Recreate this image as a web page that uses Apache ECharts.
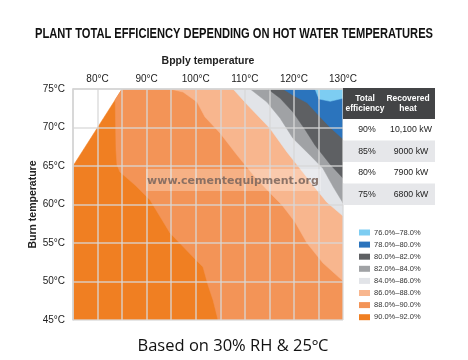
<!DOCTYPE html>
<html><head><meta charset="utf-8">
<script src="https://cdn.jsdelivr.net/npm/echarts@6/dist/echarts.min.js"></script>
<style>html,body{margin:0;padding:0;background:#fff}#c{width:468px;height:360px}</style>
</head><body><div id="c"></div>
<script>
// ---- data ----
const xMin = 75, xMax = 130, xStep = 5;     // supply temperature (°C)
const yMin = 45, yMax = 75, yStep = 5;      // return temperature (°C)
const bandNames = ['90.0%–92.0%','88.0%–90.0%','86.0%–88.0%','84.0%–86.0%','82.0%–84.0%','80.0%–82.0%','78.0%–80.0%','76.0%–78.0%'];
const bandColors = ['#f07f22','#f39457','#f8b68e','#e2e4e8','#a0a2a5','#5e6063','#2b74bd','#7dcdf2'];
// limit of the measured range (upper-left corner has no data)
const dataEdge = [[75,65],[85,75]];
// contour boundaries (lower band | higher band)
const edge90 = [[83.6,73.6],[83.76,67.08],[83.96,65.13],[84.57,64.22],[87.63,62.53],[90.69,60.58],[94.76,56.3],[99.85,52.92],[101.48,51.88],[102.5,49.55],[103.52,47.6],[104.54,45]];
const edge88 = [[94.76,75],[97.41,74.61],[100.26,73.31],[101.89,71.36],[104.94,69.29],[108.41,66.43],[112.07,63.57],[115.54,61.23],[117.57,59.94],[120.22,57.73],[122.66,55.0],[125.92,52.4],[130,50.06]];
const edge86 = [[107.6,75],[110.6,72.9],[115.1,69.9],[118.6,66.8],[121.2,64.7],[123.9,62.5],[126.7,60.3],[130,58.5]];
const edge84 = [[111.1,75],[114.5,73.3],[117.2,71.2],[119.8,68.6],[123.3,66.4],[125.9,64.7],[128.0,62.3],[130,60.2]];
const edge82 = [[114.7,75],[117.2,73.8],[119.8,72.0],[122.3,69.7],[124.3,67.7],[127.4,65.2],[130,63.4]];
const edge80 = [[117.8,75],[119.8,74.2],[122.7,73.2],[125.3,71.4],[127.4,70.0],[128.8,69.2],[130,68.5]];
const edge78 = [[124.3,75],[125.1,73.7],[127.4,73.4],[130,73.8]];
// table
const tableEff = ['90%','85%','80%','75%'];
const tableHeat = ['10,100 kW','9000 kW','7900 kW','6800 kW'];

// ---- build polygons (each layer covers everything beyond its boundary) ----
const polys = [
  [[xMin,yMin], ...dataEdge, [xMax,yMax], [xMax,yMin]],
  [...edge90, [xMax,yMin], [xMax,yMax], dataEdge[1]],
  [...edge88, [xMax,yMax]],
  [...edge86, [xMax,yMax]],
  [...edge84, [xMax,yMax]],
  [...edge82, [xMax,yMax]],
  [...edge80, [xMax,yMax]],
  [...edge78, [xMax,yMax]]
];

const SANS = "'Liberation Sans',Arial,sans-serif";
const mctx = document.createElement('canvas').getContext('2d');
function fitScale(text, font, width) { mctx.font = font; return width / mctx.measureText(text).width; }

const chart = echarts.init(document.getElementById('c'), null, {renderer:'canvas'});

const series = polys.map((p, i) => ({
  type: 'custom', name: bandNames[i], coordinateSystem: 'cartesian2d',
  itemStyle: {color: bandColors[i]}, data: [[100, 60]], clip: true, silent: true, z: 1,
  renderItem: (params, api) => ({
    type: 'polygon',
    shape: {points: p.map(pt => api.coord(pt))},
    style: {fill: bandColors[i], stroke: bandColors[i], lineWidth: 0.5}
  })
}));

const graphics = [];
// title
const titleText = 'PLANT TOTAL EFFICIENCY DEPENDING ON HOT WATER TEMPERATURES';
const titleFont = "bold 14px " + SANS;
graphics.push({type:'text', x:234, y:34, scaleX: fitScale(titleText, titleFont, 398), style:{text:titleText, fill:'#111', font:titleFont, align:'center', verticalAlign:'middle'}});
// watermark
graphics.push({type:'rect', left:146, top:169, z:50, shape:{width:175, height:22}, style:{fill:'rgba(255,255,255,0.28)'}});
graphics.push({type:'text', x:233, y:181, z:51, style:{text:'www.cementequipment.org', fill:'rgba(128,105,95,0.9)', font:"bold 11px 'DejaVu Sans',sans-serif", align:'center', verticalAlign:'middle'}});
// table
const tX = 343, tW = 92, hTop = 88, hH = 31, rH = 21.5;
const hFont = "bold 9.5px " + SANS, rFont = "9.5px " + SANS;
const hScale = fitScale('efficiency', hFont, 39);
graphics.push({type:'rect', x:tX, y:hTop, z:20, shape:{width:tW, height:hH}, style:{fill:'#434446'}});
graphics.push({type:'text', x:365, y:hTop+hH/2, z:21, scaleX: hScale, style:{text:'Total\nefficiency', fill:'#fff', font:hFont, align:'center', verticalAlign:'middle', lineHeight:10}});
graphics.push({type:'text', x:408, y:hTop+hH/2, z:21, scaleX: hScale, style:{text:'Recovered\nheat', fill:'#fff', font:hFont, align:'center', verticalAlign:'middle', lineHeight:10}});
tableEff.forEach((e, i) => {
  const y = hTop + hH + i*rH;
  graphics.push({type:'rect', x:tX, y:y, z:20, shape:{width:tW, height:rH}, style:{fill: i%2 ? '#e6e7ea' : '#ffffff'}});
  graphics.push({type:'text', x:367, y:y+rH/2, z:21, scaleX:0.92, style:{text:e, fill:'#222', font:rFont, align:'center', verticalAlign:'middle'}});
  graphics.push({type:'text', x:411, y:y+rH/2, z:21, scaleX:0.92, style:{text:tableHeat[i], fill:'#222', font:rFont, align:'center', verticalAlign:'middle'}});
});
// footer
const footText = 'Based on 30% RH & 25ºC';
const footFont = "15.5px 'Open Sans',sans-serif";
graphics.push({type:'text', x:233, y:347, scaleX: fitScale(footText, footFont, 191), style:{text:footText, fill:'#111', font:footFont, align:'center', verticalAlign:'middle'}});

chart.setOption({
  animation: false,
  grid: {left:73, right:125, top:89, bottom:40},
  legend: {orient:'vertical', left:359, top:228, itemWidth:11, itemHeight:6, itemGap:3.1, icon:'rect',
    data: bandNames.slice().reverse(), selectedMode:false, padding:0,
    textStyle:{fontFamily:SANS, fontSize:7.5, lineHeight:9, color:'#333', padding:[0,0,0,-1]}},
  xAxis: {type:'value', position:'top', min:xMin, max:xMax, interval:xStep, z:10,
    name:'Bpply temperature', nameLocation:'middle', nameGap:22, nameMoveOverlap:false,
    nameTextStyle:{fontFamily:SANS, fontWeight:'bold', fontSize:10.5, color:'#222'},
    axisLine:{show:true, lineStyle:{color:'#d4d4d4', width:1.5}}, axisTick:{show:false},
    axisLabel:{formatter: v => (v % 10 === 0 ? v + '°C' : ''), fontFamily:SANS, fontSize:10, color:'#222', margin:5},
    splitLine:{show:true, lineStyle:{color:'rgba(215,215,215,0.85)', width:1.5}}},
  yAxis: {type:'value', min:yMin, max:yMax, interval:yStep, z:10,
    name:'Burn temperature', nameLocation:'middle', nameGap:34, nameMoveOverlap:false,
    nameTextStyle:{fontFamily:SANS, fontWeight:'bold', fontSize:10.5, color:'#222'},
    axisLine:{show:true, lineStyle:{color:'#d4d4d4', width:1.5}}, axisTick:{show:false},
    axisLabel:{formatter: v => v + '°C', fontFamily:SANS, fontSize:10, color:'#222', margin:8},
    splitLine:{show:true, lineStyle:{color:'rgba(215,215,215,0.85)', width:1.5}}},
  series: series,
  graphic: graphics
});
</script></body></html>
